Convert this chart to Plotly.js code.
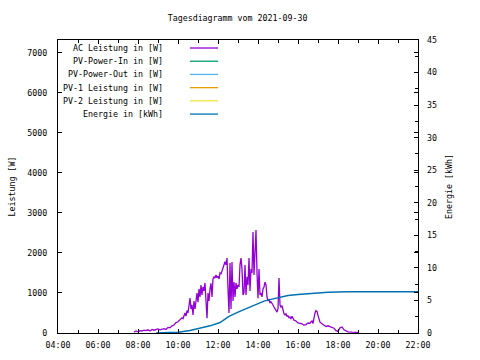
<!DOCTYPE html>
<html><head><meta charset="utf-8">
<script src="https://cdn.plot.ly/plotly-3.0.1.min.js"></script>
<style>body{margin:0;background:#fff}#c{width:480px;height:360px}</style>
</head><body><div id="c"></div>
<script>
const day = "2021-09-30 ";
const titleText = "Tagesdiagramm vom 2021-09-30";
const seriesNames = ["AC Leistung in [W]", "PV-Power-In in [W]", "PV-Power-Out in [W]", "PV-1 Leistung in [W]", "PV-2 Leistung in [W]", "Energie in [kWh]"];
const seriesColors = ["#9400d3", "#009e73", "#56b4e9", "#e69f00", "#f0e442", "#0072b2"];
const xTickLabels = ["04:00","06:00","08:00","10:00","12:00","14:00","16:00","18:00","20:00","22:00"];

// AC Leistung [W]
const acTime = ["07:48","07:54","08:00","08:06","08:12","08:18","08:24","08:30","08:36","08:42","08:48","08:54","09:00","09:06","09:12","09:18","09:24","09:30","09:36","09:42","09:48","09:54","10:00","10:06","10:12","10:15","10:18","10:21","10:24","10:27","10:30","10:33","10:36","10:39","10:42","10:45","10:48","10:51","10:54","10:57","11:00","11:03","11:06","11:09","11:12","11:15","11:18","11:21","11:24","11:27","11:30","11:33","11:36","11:39","11:42","11:45","11:48","11:51","11:54","11:57","12:00","12:03","12:06","12:09","12:12","12:15","12:18","12:21","12:24","12:27","12:30","12:33","12:36","12:39","12:42","12:45","12:48","12:51","12:54","12:57","13:00","13:03","13:06","13:09","13:12","13:15","13:18","13:21","13:24","13:27","13:30","13:33","13:36","13:39","13:42","13:45","13:48","13:51","13:54","13:57","14:00","14:03","14:06","14:09","14:12","14:15","14:18","14:21","14:24","14:27","14:30","14:33","14:36","14:39","14:42","14:45","14:48","14:51","14:54","14:57","15:00","15:03","15:06","15:09","15:12","15:15","15:18","15:21","15:24","15:27","15:30","15:33","15:36","15:39","15:42","15:48","15:54","16:00","16:06","16:12","16:18","16:24","16:30","16:36","16:39","16:42","16:45","16:48","16:51","16:54","16:57","17:00","17:03","17:06","17:12","17:18","17:24","17:30","17:36","17:42","17:48","17:54","18:00","18:06","18:12","18:18","18:24","18:30","18:42","19:00"];
const acPower = [20,50,30,60,50,70,60,80,50,90,70,80,100,80,90,110,90,140,130,180,200,260,280,330,380,360,450,500,420,560,500,650,870,600,700,450,800,600,900,1000,770,1100,900,1200,950,1150,1050,1250,800,370,1000,800,1100,1240,900,1350,1400,1370,1450,1380,1420,1350,1500,1480,1550,1620,1700,1780,1700,1870,1100,500,1750,600,1770,800,1270,900,1250,1100,1200,1150,1700,1870,1600,950,1000,1700,950,1400,1200,1870,1050,1600,1500,2520,1450,2200,2570,1500,870,1600,950,1000,900,1100,1150,1270,1200,900,800,850,750,780,720,700,650,600,550,520,600,1370,700,650,680,520,480,450,480,420,430,380,400,350,420,320,300,250,240,230,200,210,250,240,280,300,240,400,500,560,540,440,350,270,230,200,160,180,160,130,120,60,40,130,150,80,50,30,20,15,10,5];

// Energie [kWh]
const enTime = ["08:54","10:00","10:36","11:06","11:36","12:06","12:21","12:33","13:00","13:30","14:00","14:18","14:42","15:00","15:30","16:00","16:30","17:00","17:30","18:00","18:30","22:00"];
const energy = [0,0.1,0.4,0.7,1.1,1.6,2.2,2.55,3.2,3.9,4.6,4.9,5.2,5.45,5.75,5.9,6.05,6.2,6.25,6.3,6.35,6.35];

// series without visible data
const pvIn = [], pvOut = [], pv1 = [], pv2 = [];

const FONT = "DejaVu Sans Mono, monospace";
const fs = 8.3;
const toX = a => a.map(t => day + t);

const traces = [
  {x: toX(acTime), y: acPower, type: "scatter", mode: "lines", line: {color: seriesColors[0], width: 1.3}, yaxis: "y"},
  {x: [], y: pvIn, type: "scatter", mode: "lines", line: {color: seriesColors[1], width: 1.3}, yaxis: "y"},
  {x: [], y: pvOut, type: "scatter", mode: "lines", line: {color: seriesColors[2], width: 1.3}, yaxis: "y"},
  {x: [], y: pv1, type: "scatter", mode: "lines", line: {color: seriesColors[3], width: 1.3}, yaxis: "y"},
  {x: [], y: pv2, type: "scatter", mode: "lines", line: {color: seriesColors[4], width: 1.3}, yaxis: "y"},
  {x: toX(enTime), y: energy, type: "scatter", mode: "lines", line: {color: seriesColors[5], width: 1.5}, yaxis: "y2"}
];

// custom gnuplot-like legend (text right-aligned, sample line to the right)
const plotH = 292.7, plotW = 360;
const annotations = [], shapes = [];
seriesNames.forEach((n, i) => {
  const py = 8 + i * 13.2; // px below plot top
  const yp = 1 - py / plotH;
  annotations.push({xref: "paper", yref: "paper", x: 107 / plotW, y: yp, xanchor: "right", yanchor: "middle",
    text: n, showarrow: false, font: {family: FONT, size: fs, color: "#000"}});
  shapes.push({type: "line", xref: "paper", yref: "paper", x0: 132 / plotW, x1: 160 / plotW, y0: yp, y1: yp,
    line: {color: seriesColors[i], width: 1.3}});
});

const tickVals = xTickLabels.map(t => day + t);
const layout = {
  width: 480, height: 360,
  margin: {l: 58, r: 62, t: 40, b: 27},
  paper_bgcolor: "#fff", plot_bgcolor: "#fff",
  showlegend: false,
  font: {family: FONT, size: fs, color: "#000"},
  title: {text: titleText, x: 0.495, xanchor: "center", y: 0.95, yanchor: "middle", font: {family: FONT, size: fs, color: "#000"}},
  xaxis: {type: "date", range: [day + "04:00", day + "22:00"], tickvals: tickVals, ticktext: xTickLabels,
    ticks: "inside", ticklen: 4, tickcolor: "#000", showline: true, linecolor: "#000", linewidth: 1, mirror: "ticks",
    showgrid: false, zeroline: false, ticklabelstandoff: 4,
    minor: {dtick: 3600000, ticks: "inside", ticklen: 3, tickcolor: "#000", showgrid: false}},
  yaxis: {range: [0, 7317], tickvals: [0,1000,2000,3000,4000,5000,6000,7000], ticks: "inside", ticklen: 4, tickcolor: "#000",
    showline: true, linecolor: "#000", linewidth: 1, mirror: "ticks", showgrid: false, zeroline: false, ticklabelstandoff: 8,
    title: {text: "Leistung [W]", standoff: 10, font: {family: FONT, size: fs, color: "#000"}}},
  yaxis2: {overlaying: "y", side: "right", range: [0, 45], dtick: 5, ticks: "inside", ticklen: 4, tickcolor: "#000",
    showline: false, showgrid: false, zeroline: false, ticklabelstandoff: 8,
    minor: {dtick: 2.5, ticks: "inside", ticklen: 3, tickcolor: "#000", showgrid: false},
    title: {text: "Energie [kWh]", standoff: 10, font: {family: FONT, size: fs, color: "#000"}}},
  annotations: annotations, shapes: shapes
};
Plotly.newPlot("c", traces, layout, {displayModeBar: false, staticPlot: true});
</script></body></html>
